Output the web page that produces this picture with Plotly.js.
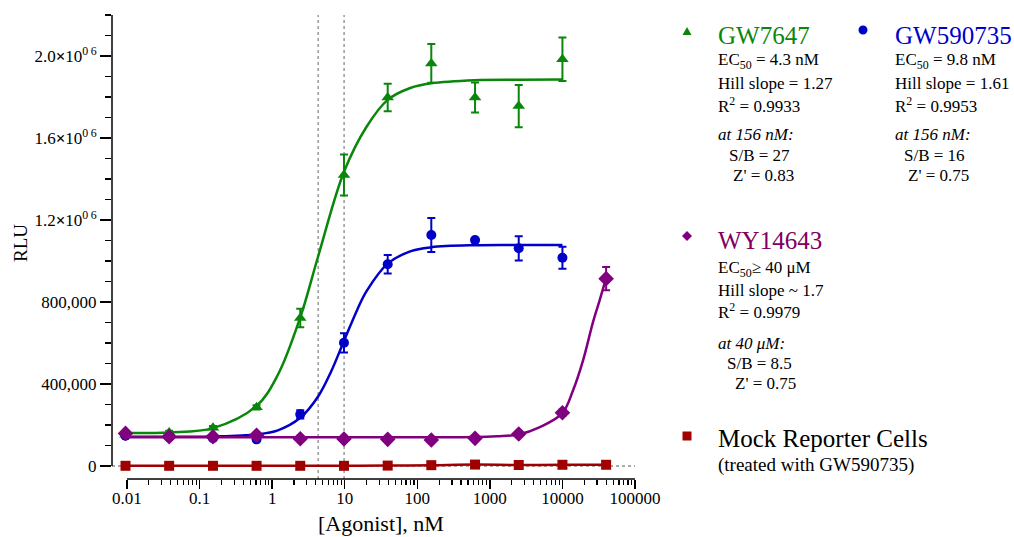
<!DOCTYPE html>
<html>
<head>
<meta charset="utf-8">
<script src="https://cdn.plot.ly/plotly-3.0.1.min.js"></script>
<style>html,body{margin:0;padding:0;background:#fff;}#chart{width:1014px;height:537px;}</style>
</head>
<body>
<div id="chart"></div>
<script>
// ---- data ----
const conc = [0.00954, 0.0381, 0.153, 0.610, 2.44, 9.77, 39.1, 156, 625, 2500, 10000, 40000];
const conc11 = conc.slice(0, 11);

const gw7647 = [152000, 164000, 187000, 286000, 722000, 1419000, 1798000, 1964000, 1798000, 1756000, 1984000];
const gw7647Err = [12000, 8000, 8000, 10000, 45000, 100000, 67000, 95000, 73000, 103000, 106000];
const gw590735 = [148000, 140000, 135000, 130000, 252000, 601000, 984000, 1127000, 1102000, 1062000, 1016000];
const gw590735Err = [8000, 6000, 6000, 6000, 20000, 47000, 45000, 83000, 0, 59000, 54000];
const wy14643 = [159000, 143000, 143000, 150000, 133000, 132000, 130000, 127000, 135000, 156000, 260000, 914000];
const wy14643Err = [6000, 5000, 5000, 5000, 5000, 5000, 5000, 5000, 5000, 6000, 15000, 57000];
const mock = [1000, 1000, 1000, 1000, 1000, 1000, 2000, 4000, 7000, 5000, 6000, 6000];

// fitted curves
const fitX7647 = [0.00954, 0.0381, 0.153, 0.610, 1.2, 2.44, 4.3, 9.77, 20, 39.1, 80, 156, 625, 2500, 10000];
const fitY7647 = [161000, 164000, 185000, 293000, 445000, 725000, 1022000, 1435000, 1655000, 1786000, 1844000, 1867000, 1882000, 1884000, 1885000];
const fitX590735 = [0.00954, 0.0381, 0.153, 0.610, 1.2, 2.44, 4.3, 6.5, 9.77, 15, 20, 39.1, 80, 156, 625, 2500, 10000];
const fitY590735 = [143000, 143000, 144000, 154000, 174000, 235000, 339000, 461000, 610000, 765000, 853000, 987000, 1047000, 1067000, 1077000, 1078000, 1078000];
const fitX14643 = [0.00954, 0.0381, 0.153, 0.610, 2.44, 9.77, 39.1, 156, 625, 1250, 2500, 4890, 10000, 14060, 19300, 26500, 32700, 40000];
const fitY14643 = [140000, 140000, 140000, 140000, 140000, 140000, 140000, 140000, 141000, 145000, 154000, 190000, 258000, 371000, 517000, 704000, 810000, 916000];

const xTickVals = [0.01, 0.1, 1, 10, 100, 1000, 10000, 100000];
const xTickText = ['0.01', '0.1', '1', '10', '100', '1000', '10000', '100000'];
const yTickVals = [0, 400000, 800000, 1200000, 1600000, 2000000];
const yTickText = ['0', '400,000', '800,000',
  '1.2<b>×</b>10<sup>0\u20096</sup>', '1.6<b>×</b>10<sup>0\u20096</sup>', '2.0<b>×</b>10<sup>0\u20096</sup>'];
const ec50Lines = [4.3, 9.8];

const GREEN = '#0a870a', BLUE = '#0000c8', PURPLE = '#800080', RED = '#a00000';
const FONT = 'Liberation Serif, Times New Roman, serif';

// minor tick positions on the log axis
const xMinor = [];
for (let e = -2; e < 5; e++) for (let m = 2; m <= 9; m++) xMinor.push(m * Math.pow(10, e));

// pixel -> paper helpers for the legend text block
const L = 112, R = 635, T = 15, B = 479;
const px = x => (x - L) / (R - L);
const py = y => (B - y) / (B - T);

function errCfg(arr, color) {
  return {type: 'data', array: arr, visible: true, color: color, thickness: 2, width: 4};
}

const traces = [
  {x: conc, y: mock, mode: 'lines', line: {color: RED, width: 2.5, shape: 'spline'}, hoverinfo: 'skip'},
  {x: conc, y: mock, mode: 'markers', marker: {symbol: 'square', size: 10, color: RED}},
  {x: fitX7647, y: fitY7647, mode: 'lines', line: {color: GREEN, width: 2.5, shape: 'spline'}},
  {x: conc11, y: gw7647, mode: 'markers', marker: {symbol: 'triangle-up', size: 11, color: GREEN}, error_y: errCfg(gw7647Err, GREEN)},
  {x: fitX590735, y: fitY590735, mode: 'lines', line: {color: BLUE, width: 2.5, shape: 'spline'}},
  {x: conc11, y: gw590735, mode: 'markers', marker: {symbol: 'circle', size: 10, color: BLUE}, error_y: errCfg(gw590735Err, BLUE)},
  {x: fitX14643, y: fitY14643, mode: 'lines', line: {color: PURPLE, width: 2.5, shape: 'spline'}},
  {x: conc, y: wy14643, mode: 'markers', marker: {symbol: 'diamond', size: 12, color: PURPLE}, error_y: errCfg(wy14643Err, PURPLE)}
];

const shapes = [
  // y axis line (0 .. top)
  {type: 'line', xref: 'paper', yref: 'y', x0: 0, x1: 0, y0: 0, y1: 2200000, line: {color: '#000', width: 1.5}},
  // x axis line (0.01 .. 100000)
  {type: 'line', xref: 'x', yref: 'paper', x0: 0.01, x1: 100000, y0: 0, y1: 0, line: {color: '#000', width: 1.5}},
  // dotted zero baseline
  {type: 'line', xref: 'paper', yref: 'y', x0: 0, x1: 1, y0: 0, y1: 0, line: {color: '#555', width: 1, dash: 'dot'}, layer: 'below'}
];
ec50Lines.forEach(v => shapes.push({type: 'line', xref: 'x', yref: 'paper', x0: v, x1: v, y0: 0, y1: 1,
  line: {color: '#666', width: 1, dash: 'dot'}, layer: 'below'}));

// legend marker glyphs as shapes (pixel positions converted to paper)
function pathPaper(pts) {
  return 'M ' + pts.map(p => px(p[0]) + ',' + py(p[1])).join(' L ') + ' Z';
}
shapes.push({type: 'path', xref: 'paper', yref: 'paper', path: pathPaper([[682.5, 35], [691.5, 35], [687, 27]]), fillcolor: GREEN, line: {width: 0}});
shapes.push({type: 'circle', xref: 'paper', yref: 'paper', x0: px(858.5), x1: px(867.5), y0: py(34.5), y1: py(25.5), fillcolor: BLUE, line: {width: 0}});
shapes.push({type: 'path', xref: 'paper', yref: 'paper', path: pathPaper([[687, 231], [692, 236], [687, 241], [682, 236]]), fillcolor: PURPLE, line: {width: 0}});
shapes.push({type: 'rect', xref: 'paper', yref: 'paper', x0: px(682.5), x1: px(691.5), y0: py(440.5), y1: py(431.5), fillcolor: RED, line: {width: 0}});

const annotations = [];
function txt(x, y, text, size, color) {
  annotations.push({xref: 'paper', yref: 'paper', x: px(x), y: py(y), xanchor: 'left', yanchor: 'middle',
    text: text, showarrow: false, font: {family: FONT, size: size, color: color || '#000'}});
}
// GW7647 block
txt(716, 35, 'GW7647', 25, GREEN);
txt(716, 61, 'EC<sub>50</sub> = 4.3 nM', 17);
txt(716, 83, 'Hill slope = 1.27', 17);
txt(716, 105, 'R<sup>2</sup> = 0.9933', 17);
txt(716, 134, '<i>at 156 nM:</i>', 17);
txt(727, 155, 'S/B = 27', 17);
txt(731, 176, "Z' = 0.83", 17);
// GW590735 block
txt(893, 35, 'GW590735', 25, BLUE);
txt(893, 61, 'EC<sub>50</sub> = 9.8 nM', 17);
txt(893, 83, 'Hill slope = 1.61', 17);
txt(893, 105, 'R<sup>2</sup> = 0.9953', 17);
txt(893, 134, '<i>at 156 nM:</i>', 17);
txt(902, 155, 'S/B = 16', 17);
txt(906, 176, "Z' = 0.75", 17);
// WY14643 block
txt(716, 241, 'WY14643', 25, '#800060');
txt(716, 269, 'EC<sub>50</sub>≥ 40 μM', 17);
txt(716, 290, 'Hill slope ~ 1.7', 17);
txt(716, 311, 'R<sup>2</sup> = 0.9979', 17);
txt(716, 343, '<i>at 40 μM:</i>', 17);
txt(725, 363, 'S/B = 8.5', 17);
txt(733, 383, "Z' = 0.75", 17);
// Mock block
txt(716, 438, 'Mock Reporter Cells', 25);
txt(716, 465, '(treated with GW590735)', 19);
// axis titles
annotations.push({xref: 'paper', yref: 'paper', x: px(381), y: py(523), xanchor: 'center', yanchor: 'middle',
  text: '[Agonist], nM', showarrow: false, font: {family: FONT, size: 22, color: '#000'}});
annotations.push({xref: 'paper', yref: 'paper', x: px(20), y: py(243), xanchor: 'center', yanchor: 'middle',
  text: 'RLU', textangle: -90, showarrow: false, font: {family: FONT, size: 19, color: '#000'}});

const layout = {
  width: 1014, height: 537,
  margin: {l: L, r: 1014 - R, t: T, b: 537 - B, pad: 0},
  paper_bgcolor: '#fff', plot_bgcolor: '#fff',
  showlegend: false,
  font: {family: FONT, size: 17, color: '#000'},
  xaxis: {
    type: 'log', range: [-2.2066, 5], showline: false, zeroline: false, showgrid: false,
    tickmode: 'array', tickvals: xTickVals, ticktext: xTickText,
    ticks: 'outside', ticklen: 9, tickwidth: 1.5, tickcolor: '#000',
    ticklabelstandoff: -5,
    tickfont: {family: FONT, size: 17, color: '#000'},
    minor: {tickmode: 'array', tickvals: xMinor, ticks: 'outside', ticklen: 5, tickwidth: 1.2, tickcolor: '#000', showgrid: false},
    automargin: false, fixedrange: true
  },
  yaxis: {
    range: [-63400, 2200000], showline: false, zeroline: false, showgrid: false,
    tickmode: 'array', tickvals: yTickVals, ticktext: yTickText,
    ticks: 'outside', ticklen: 11, tickwidth: 1.5, tickcolor: '#000',
    tickfont: {family: FONT, size: 17, color: '#000'},
    minor: {tickmode: 'linear', tick0: 0, dtick: 100000, ticks: 'outside', ticklen: 6, tickwidth: 1.2, tickcolor: '#000', showgrid: false},
    automargin: false, fixedrange: true
  },
  shapes: shapes,
  annotations: annotations
};

Plotly.newPlot('chart', traces, layout, {displayModeBar: false, staticPlot: true});
</script>
</body>
</html>
